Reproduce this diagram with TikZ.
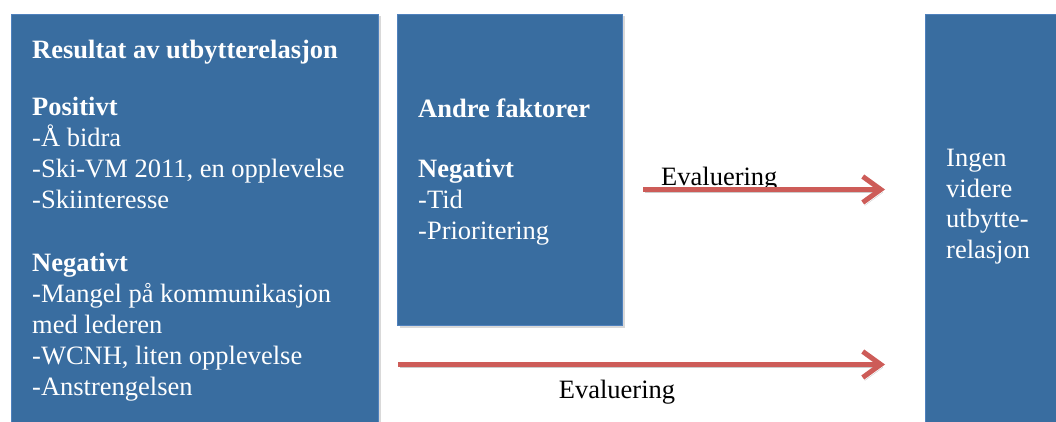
\documentclass[tikz,border=0pt]{standalone}
\usepackage{fontspec}
\setmainfont{Liberation Serif}
\usetikzlibrary{positioning}
\usetikzlibrary{shadows}
\usetikzlibrary{arrows.meta}
\definecolor{boksblaa}{RGB}{57,109,160}
\definecolor{kantblaa}{RGB}{79,129,189}
\definecolor{pilrod}{RGB}{205,92,88}
\tikzstyle{boks} = [rectangle, fill=boksblaa, draw=kantblaa, line width=1pt,
anchor=north west, inner sep=0pt,
drop shadow={opacity=0.3, shadow xshift=2pt, shadow yshift=-2pt}]
\tikzstyle{tekst} = [anchor=base west, inner sep=0pt, text=white, align=left,
font=\fontsize{26.5}{31}\selectfont]
\tikzstyle{etikett} = [inner sep=0pt, font=\fontsize{26.5}{31}\selectfont]
\tikzstyle{pil} = [draw=pilrod, line width=5pt,
-{Straight Barb[length=18pt, width=26pt]},
preaction={draw=black, opacity=0.2, transform canvas={xshift=2pt, yshift=-3pt}}]

\begin{document}
\begin{tikzpicture}[x=1pt, y=1pt]
  \useasboundingbox (0,0) rectangle (1056,421);
  % boxes
  \node[boks, minimum width=367pt, minimum height=420pt] (resultat) at (11,407) {};
  \node[boks, minimum width=225pt, minimum height=311pt] (andre) at (397,407) {};
  \node[boks, minimum width=140pt, minimum height=420pt] (ingen) at (925,407) {};
  % box texts (anchored on the last line)
  \node[tekst] (resultattekst) at (32,26) {\textbf{Resultat av utbytterelasjon}\\[26pt]
    \textbf{Positivt}\\
    -Å bidra\\
    -Ski-VM 2011, en opplevelse\\
    -Skiinteresse\\[32pt]
    \textbf{Negativt}\\
    -Mangel på kommunikasjon\\
    med lederen\\
    -WCNH, liten opplevelse\\
    -Anstrengelsen};
  \node[tekst] (andretekst) at (418,182) {\textbf{Andre faktorer}\\[29pt]
    \textbf{Negativt}\\
    -Tid\\
    -Prioritering};
  \node[tekst, font=\fontsize{26.5}{30.5}\selectfont] (ingentekst) at (946,163) {Ingen\\
    videre\\
    utbytte-\\
    relasjon};
  % labels
  \node[etikett, anchor=base west] (eval1) at (661,236) {Evaluering};
  \node[etikett, anchor=base] (eval2) at (617,23) {Evaluering};

  % arrows
  \draw[pil, shorten <=20pt, shorten >=40pt] ([yshift=-19.5pt]andre.east) -- ([yshift=35pt]ingen.west);
  \draw[pil, shorten <=19pt, shorten >=40pt] ([yshift=-140pt]resultat.east) -- ([yshift=-140pt]ingen.west);
\end{tikzpicture}
\end{document}
